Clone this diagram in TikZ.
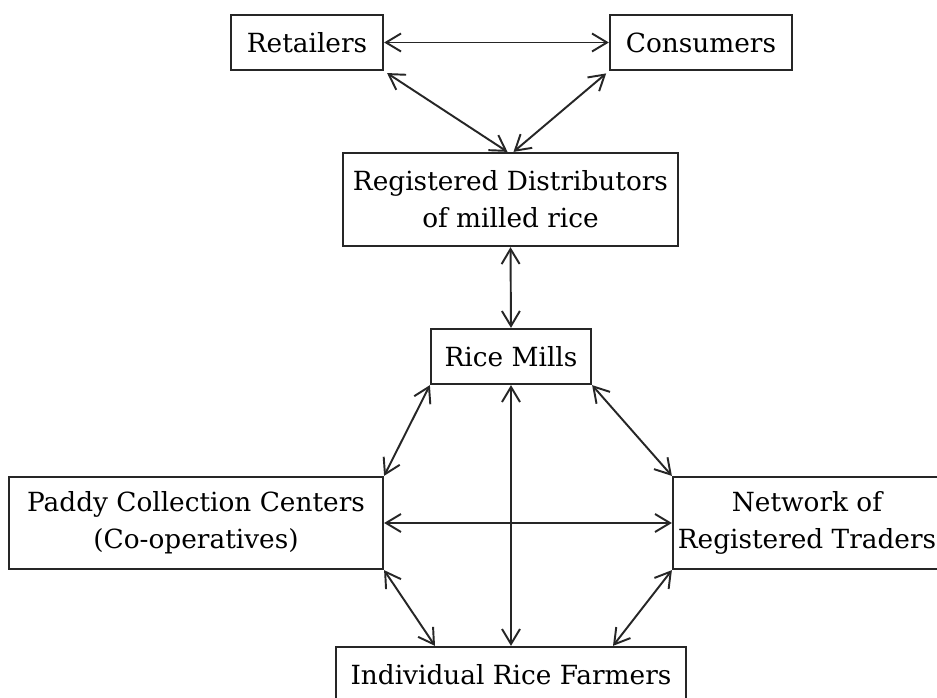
\documentclass[tikz,border=0pt]{standalone}
\usepackage{fontspec}
\setmainfont{DejaVu Serif}
\usepackage{tikz}
\usetikzlibrary{positioning,calc,arrows.meta}

\begin{document}
\begin{tikzpicture}[x=0.02cm, y=-0.02cm,
	stage/.style={
		draw=black!85, line width=1.3pt, fill=white, align=center,
		inner sep=0pt, font=\fontsize{15}{21}\selectfont
	},
	link/.style={
		{Straight Barb[length=3mm,width=3.6mm]}-{Straight Barb[length=3mm,width=3.6mm]},
		line width=1.1pt, draw=black!85
	}
	]
	\clip (0,0) rectangle (937,697);
	\fill[white] (0,0) rectangle (937,697);
	
	% top row
	\node[stage, minimum width=3.04cm, minimum height=1.1cm] (retail) at (307,42.5) {Retailers};
	\node[stage, minimum width=3.64cm, minimum height=1.1cm] (consum) at (701,42.5) {Consumers};
	\node[stage, minimum width=6.7cm, minimum height=1.86cm] (distrib) at (510.5,199.5) {Registered Distributors\\of milled rice};
	\node[stage, minimum width=3.2cm, minimum height=1.1cm] (mills) at (511,356.5) {Rice Mills};
	
	% collection level
	\node[stage, minimum width=7.48cm, minimum height=1.84cm] (paddy) at (196,523) {Paddy Collection Centers\\(Co-operatives)};
	\node[stage, minimum width=5.36cm, minimum height=1.84cm] (network) at (807,523) {Network of\\Registered Traders};
	\node[stage, minimum width=7cm, minimum height=1.1cm] (farmers) at (511,674.5) {Individual Rice Farmers};
	
	% flows
	\draw[link] (retail.east) -- (consum.west);
	\draw[link, shorten <=2pt] (retail.south east) -- ($(distrib.north)+(-3,0)$);
	\draw[link, shorten <=2pt] (consum.south west) -- ($(distrib.north)+(3,0)$);
	\draw[link] (distrib.south) -- (mills.north);
	\draw[link] (mills.south west) -- (paddy.north east);
	\draw[link] (mills.south east) -- (network.north west);
	\draw[link] (mills.south) -- (farmers.north);
	\draw[link] (paddy.east) -- (network.west);
	\draw[link] (paddy.south east) -- ($(farmers.north)+(-76,0)$);
	\draw[link] (network.south west) -- ($(farmers.north)+(102,0)$);
\end{tikzpicture}
\end{document}
